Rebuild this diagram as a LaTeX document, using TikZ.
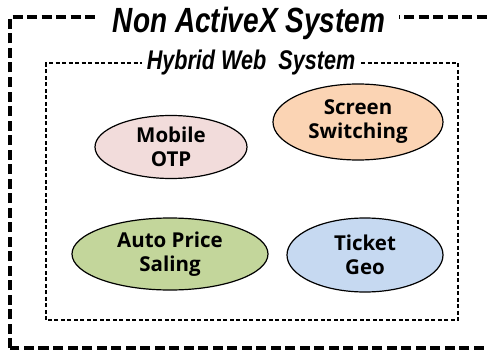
\documentclass[tikz,border=0pt]{standalone}
\usepackage{fontspec}
\setmainfont{Liberation Sans}
\newfontfamily\headfont{Liberation Sans}[FakeStretch=0.8]
\newfontfamily\bubblefont{Open Sans}
\usetikzlibrary{shapes.geometric}

\definecolor{otppink}{HTML}{F2DCDB}
\definecolor{screenpeach}{HTML}{FBD4B4}
\definecolor{pricegreen}{HTML}{C3D69B}
\definecolor{geoblue}{HTML}{C6D9F1}

\begin{document}
\begin{tikzpicture}[x=1pt,y=-1pt,
    bubble/.style={ellipse,draw,line width=1.2pt,inner sep=0pt,align=center,
      font=\bubblefont\bfseries\fontsize{20.5}{24}\selectfont},
    outerline/.style={line width=4pt,dash pattern=on 10pt off 4.5pt},
    innerline/.style={line width=1.3pt,dash pattern=on 4pt off 2.5pt}]
    \useasboundingbox (0,0) rectangle (487,353);

    \draw[outerline] (10,348) -- (10,17) -- (488.5,17) -- (488.5,348) -- cycle;
    \draw[innerline] (46,320) -- (46,63) -- (458,63) -- (458,320) -- cycle;

    \node[fill=white,anchor=base,inner xsep=14pt,inner ysep=1pt,
      font=\headfont\bfseries\itshape\fontsize{35}{36}\selectfont]
      (outertitle) at (249,33) {Non ActiveX System};
    \node[fill=white,anchor=base,inner xsep=5pt,inner ysep=1pt,
      font=\headfont\bfseries\itshape\fontsize{27}{29}\selectfont]
      (innertitle) at (251,70) {Hybrid Web\ \ System};

    \node[bubble,fill=otppink,minimum width=152pt,minimum height=63pt]
      (otp) at (171,147) {Mobile\\OTP};
    \node[bubble,fill=screenpeach,minimum width=170pt,minimum height=76pt]
      (screen) at (358,122) {Screen\\Switching};
    \node[bubble,fill=pricegreen,minimum width=196pt,minimum height=72pt]
      (price) at (170,254) {Auto Price\\Saling};
    \node[bubble,fill=geoblue,minimum width=156pt,minimum height=74pt]
      (geo) at (365,255) {Ticket\\Geo};
\end{tikzpicture}
\end{document}
